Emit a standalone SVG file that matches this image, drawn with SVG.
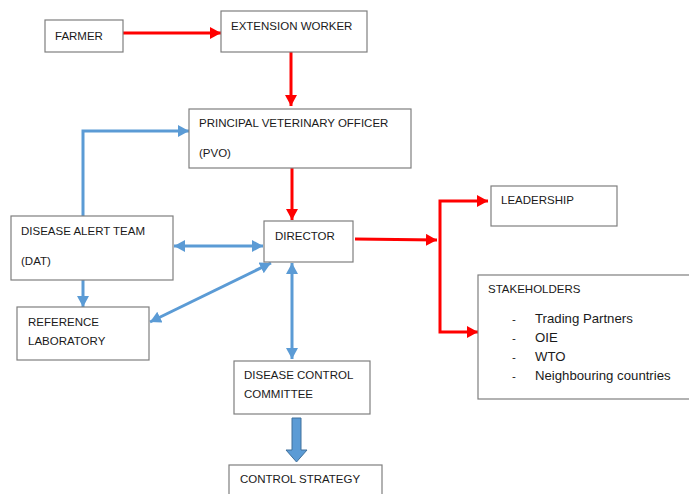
<svg xmlns="http://www.w3.org/2000/svg" width="689" height="494" viewBox="0 0 689 494">
<style>
.box{fill:#fff;stroke:#7f7f7f;stroke-width:1.2}
text{font-family:"Liberation Sans",Arial,sans-serif;font-size:11.5px;fill:#1a1a1a}
text.li{font-size:13.2px}
.red{fill:none;stroke:#ff0000;stroke-width:3}
.blue{fill:none;stroke:#5b9bd5;stroke-width:3}
</style>
<defs>
<marker id="ar" markerUnits="userSpaceOnUse" markerWidth="12" markerHeight="12" refX="11" refY="6" orient="auto-start-reverse"><path d="M0,0 L11,6 L0,12 z" fill="#ff0000"/></marker>
<marker id="ab" markerUnits="userSpaceOnUse" markerWidth="12" markerHeight="12" refX="11" refY="6" orient="auto-start-reverse"><path d="M0,0 L11,6 L0,12 z" fill="#5b9bd5"/></marker>
</defs>
<rect width="689" height="494" fill="#fff"/>
<g id="connectors">
<line class="red" x1="123" y1="33" x2="221" y2="33" marker-end="url(#ar)"/>
<line class="red" x1="291" y1="52" x2="291" y2="106" marker-end="url(#ar)"/>
<line class="red" x1="292" y1="168" x2="292" y2="220" marker-end="url(#ar)"/>
<line class="red" x1="355" y1="239" x2="437" y2="240" marker-end="url(#ar)"/>
<polyline class="red" points="488,201 440,201 440,332 478,332" marker-start="url(#ar)" marker-end="url(#ar)"/>
<polyline class="blue" points="83,216 83,131 189,131" marker-end="url(#ab)"/>
<line class="blue" x1="174" y1="246" x2="263" y2="246" marker-start="url(#ab)" marker-end="url(#ab)"/>
<line class="blue" x1="83" y1="280" x2="83" y2="307" marker-end="url(#ab)"/>
<line class="blue" x1="150" y1="322" x2="271" y2="263" marker-start="url(#ab)" marker-end="url(#ab)"/>
<line class="blue" x1="292" y1="263" x2="292" y2="359" marker-start="url(#ab)" marker-end="url(#ab)"/>
<polygon points="292,418 301,418 301,450 307,450 296.5,462 286,450 292,450" fill="#5b9bd5" stroke="#41719c" stroke-width="1"/>
</g>
<g id="farmer"><rect class="box" x="45" y="20" width="78" height="32"/><text x="55" y="40">FARMER</text></g>
<g id="extension-worker"><rect class="box" x="221" y="11" width="146" height="41"/><text x="231" y="30">EXTENSION WORKER</text></g>
<g id="pvo"><rect class="box" x="189" y="109" width="222" height="59"/><text x="199" y="127">PRINCIPAL VETERINARY OFFICER</text><text x="199" y="157">(PVO)</text></g>
<g id="dat"><rect class="box" x="11" y="216" width="162" height="64"/><text x="21" y="235">DISEASE ALERT TEAM</text><text x="21" y="265">(DAT)</text></g>
<g id="director"><rect class="box" x="264" y="221" width="89" height="41"/><text x="275" y="240">DIRECTOR</text></g>
<g id="leadership"><rect class="box" x="491" y="186" width="126" height="40"/><text x="501" y="204">LEADERSHIP</text></g>
<g id="stakeholders"><rect class="box" x="478" y="275" width="215" height="124"/><text x="488" y="293">STAKEHOLDERS</text>
<text x="512" y="323">-</text><text class="li" x="535" y="323">Trading Partners</text>
<text x="512" y="342">-</text><text class="li" x="535" y="342">OIE</text>
<text x="512" y="361">-</text><text class="li" x="535" y="361">WTO</text>
<text x="512" y="380">-</text><text class="li" x="535" y="380">Neighbouring countries</text></g>
<g id="reference-laboratory"><rect class="box" x="17" y="307" width="132" height="53"/><text x="28" y="326">REFERENCE</text><text x="28" y="345">LABORATORY</text></g>
<g id="disease-control-committee"><rect class="box" x="234" y="361" width="136" height="53"/><text x="244" y="379">DISEASE CONTROL</text><text x="244" y="398">COMMITTEE</text></g>
<g id="control-strategy"><rect class="box" x="229" y="465" width="153" height="40"/><text x="240" y="483">CONTROL STRATEGY</text></g>
</svg>
